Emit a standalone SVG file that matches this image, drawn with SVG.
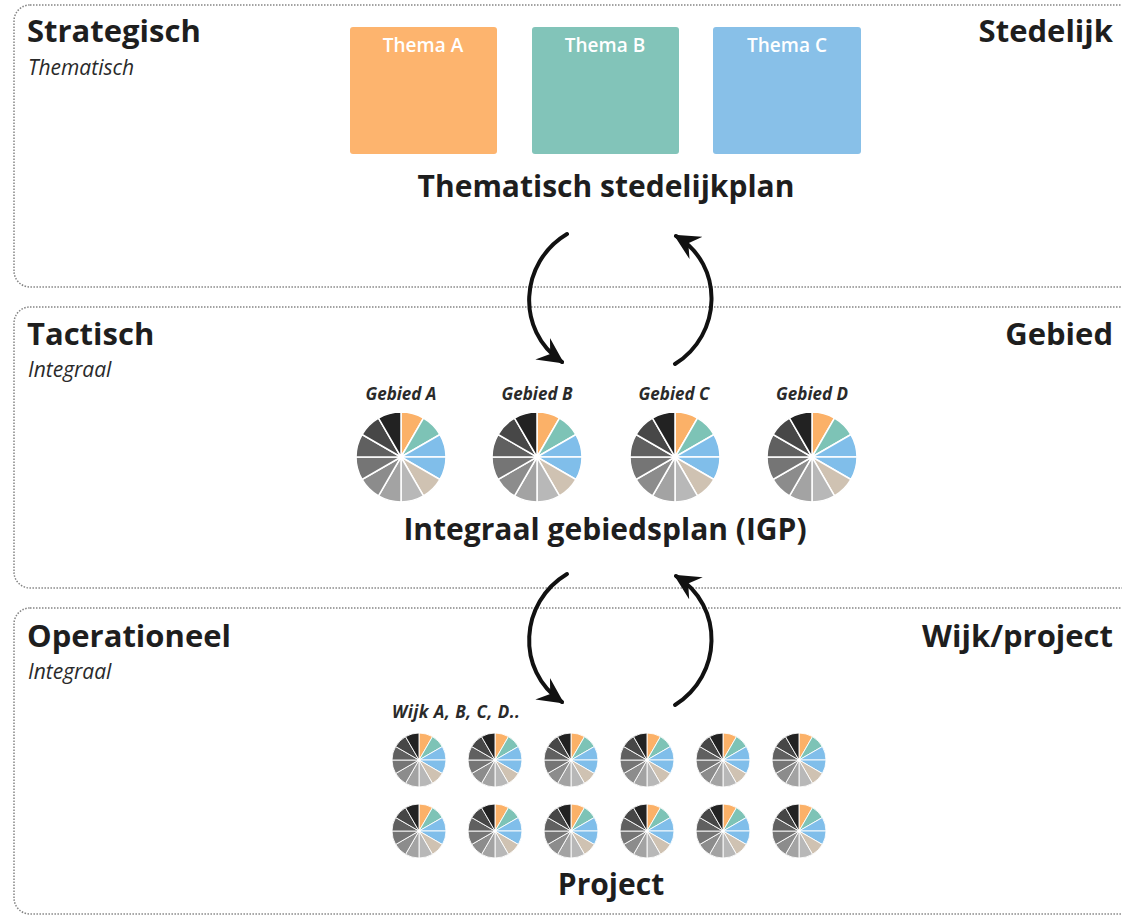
<svg xmlns="http://www.w3.org/2000/svg" xmlns:xlink="http://www.w3.org/1999/xlink" width="1122" height="919" viewBox="0 0 1122 919">
<style>
.panel{fill:none;stroke:#858585;stroke-width:1.5;stroke-dasharray:1.5 1.5}
.h{font-family:"Open Sans","Liberation Sans",sans-serif;font-weight:700;fill:#1e1e1e}
.sub{font-family:"Open Sans","Liberation Sans",sans-serif;font-style:italic;fill:#2a2a2a;font-size:21px}
.lbl{font-family:"Open Sans","Liberation Sans",sans-serif;font-style:italic;font-weight:700;fill:#2a2a2a;font-size:17px}
.thema{font-family:"Open Sans","Liberation Sans",sans-serif;font-weight:600;fill:#ffffff;font-size:19px}
.arrow{fill:none;stroke:#111;stroke-width:4;stroke-linecap:round}
.sl{stroke:#fff;stroke-width:1.5}
</style>
<defs>
<marker id="ah" viewBox="0 0 10 10" refX="9" refY="5" markerWidth="6.5" markerHeight="6.5" orient="auto" markerUnits="strokeWidth">
<path d="M0,0 L10,5 L0,10 L3.5,5 Z" fill="#111"/>
</marker>
<g id="pie">
<path class="sl" fill="#FBB168" d="M0,0 L0,-45 A45,45 0 0 1 22.5,-38.97 Z"/>
<path class="sl" fill="#7DC3B6" d="M0,0 L22.5,-38.97 A45,45 0 0 1 38.97,-22.5 Z"/>
<path class="sl" fill="#80BEEA" d="M0,0 L38.97,-22.5 A45,45 0 0 1 45,0 Z"/>
<path class="sl" fill="#80BEEA" d="M0,0 L45,0 A45,45 0 0 1 38.97,22.5 Z"/>
<path class="sl" fill="#CFC2B2" d="M0,0 L38.97,22.5 A45,45 0 0 1 22.5,38.97 Z"/>
<path class="sl" fill="#B8B8B8" d="M0,0 L22.5,38.97 A45,45 0 0 1 0,45 Z"/>
<path class="sl" fill="#A3A3A3" d="M0,0 L0,45 A45,45 0 0 1 -22.5,38.97 Z"/>
<path class="sl" fill="#8C8C8C" d="M0,0 L-22.5,38.97 A45,45 0 0 1 -38.97,22.5 Z"/>
<path class="sl" fill="#757575" d="M0,0 L-38.97,22.5 A45,45 0 0 1 -45,0 Z"/>
<path class="sl" fill="#606060" d="M0,0 L-45,0 A45,45 0 0 1 -38.97,-22.5 Z"/>
<path class="sl" fill="#474747" d="M0,0 L-38.97,-22.5 A45,45 0 0 1 -22.5,-38.97 Z"/>
<path class="sl" fill="#222222" d="M0,0 L-22.5,-38.97 A45,45 0 0 1 0,-45 Z"/>
<circle r="3" fill="#fff"/>
</g>
</defs>
<rect width="1122" height="919" fill="#fff"/>

<g id="panel-strategisch">
<rect class="panel" x="14" y="5" width="1140" height="282" rx="16"/>
<text class="h" x="27" y="42" font-size="31">Strategisch</text>
<text class="sub" x="28" y="75">Thematisch</text>
<text class="h" x="1113" y="42" font-size="31" text-anchor="end">Stedelijk</text>
</g>
<g id="panel-tactisch">
<rect class="panel" x="14" y="307" width="1140" height="281" rx="16"/>
<text class="h" x="27" y="345" font-size="31">Tactisch</text>
<text class="sub" x="28" y="377">Integraal</text>
<text class="h" x="1113" y="345" font-size="31" text-anchor="end">Gebied</text>
</g>
<g id="panel-operationeel">
<rect class="panel" x="14" y="608" width="1140" height="306" rx="16"/>
<text class="h" x="27" y="647" font-size="31">Operationeel</text>
<text class="sub" x="28" y="679">Integraal</text>
<text class="h" x="1113" y="647" font-size="31" text-anchor="end">Wijk/project</text>
</g>

<g id="thema-a">
<rect x="350" y="27" width="147" height="127" rx="3" fill="#FDB46E"/>
<text class="thema" x="423" y="52" text-anchor="middle">Thema A</text>
</g>
<g id="thema-b">
<rect x="532" y="27" width="147" height="127" rx="3" fill="#82C4B9"/>
<text class="thema" x="605" y="52" text-anchor="middle">Thema B</text>
</g>
<g id="thema-c">
<rect x="713" y="27" width="148" height="127" rx="3" fill="#88C0E8"/>
<text class="thema" x="787" y="52" text-anchor="middle">Thema C</text>
</g>
<g id="title-stedelijkplan">
<text class="h" x="606" y="197" font-size="30" text-anchor="middle">Thematisch stedelijkplan</text>
</g>

<g id="gebied-a">
<text class="lbl" x="401" y="400" text-anchor="middle">Gebied A</text>
<use xlink:href="#pie" href="#pie" transform="translate(401,457)"/>
</g>
<g id="gebied-b">
<text class="lbl" x="537" y="400" text-anchor="middle">Gebied B</text>
<use xlink:href="#pie" href="#pie" transform="translate(537,457)"/>
</g>
<g id="gebied-c">
<text class="lbl" x="674" y="400" text-anchor="middle">Gebied C</text>
<use xlink:href="#pie" href="#pie" transform="translate(675,457)"/>
</g>
<g id="gebied-d">
<text class="lbl" x="812" y="400" text-anchor="middle">Gebied D</text>
<use xlink:href="#pie" href="#pie" transform="translate(812,457)"/>
</g>
<g id="title-igp">
<text class="h" x="605" y="540" font-size="30" text-anchor="middle">Integraal gebiedsplan (IGP)</text>
</g>

<g id="wijken">
<text class="lbl" x="392" y="718" font-size="18.5" letter-spacing="0.5">Wijk A, B, C, D..</text>
<use xlink:href="#pie" href="#pie" transform="translate(419,760) scale(0.6)"/>
<use xlink:href="#pie" href="#pie" transform="translate(495,760) scale(0.6)"/>
<use xlink:href="#pie" href="#pie" transform="translate(571,760) scale(0.6)"/>
<use xlink:href="#pie" href="#pie" transform="translate(647,760) scale(0.6)"/>
<use xlink:href="#pie" href="#pie" transform="translate(723,760) scale(0.6)"/>
<use xlink:href="#pie" href="#pie" transform="translate(799,760) scale(0.6)"/>
<use xlink:href="#pie" href="#pie" transform="translate(419,831) scale(0.6)"/>
<use xlink:href="#pie" href="#pie" transform="translate(495,831) scale(0.6)"/>
<use xlink:href="#pie" href="#pie" transform="translate(571,831) scale(0.6)"/>
<use xlink:href="#pie" href="#pie" transform="translate(647,831) scale(0.6)"/>
<use xlink:href="#pie" href="#pie" transform="translate(723,831) scale(0.6)"/>
<use xlink:href="#pie" href="#pie" transform="translate(799,831) scale(0.6)"/>
</g>
<g id="title-project">
<text class="h" x="611" y="895" font-size="30" text-anchor="middle">Project</text>
</g>

<g id="connectors">
<path class="arrow" marker-end="url(#ah)" d="M567,234 C520,262 515,330 562,362"/>
<path class="arrow" marker-end="url(#ah)" d="M675,364 C722,335 725,265 676,236"/>
<path class="arrow" marker-end="url(#ah)" d="M567,574 C520,602 515,670 562,702"/>
<path class="arrow" marker-end="url(#ah)" d="M675,705 C722,676 725,606 676,576"/>
</g>
</svg>
